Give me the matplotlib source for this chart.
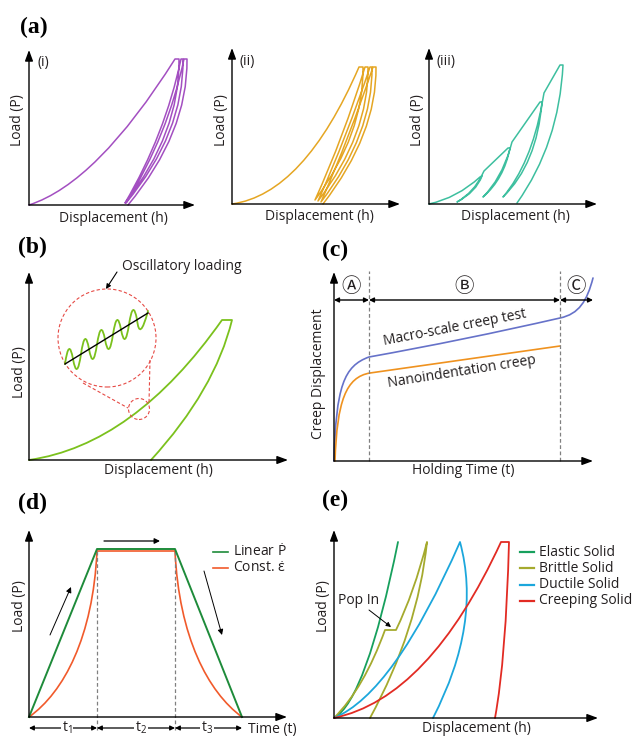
import numpy as np
import matplotlib.pyplot as plt
from matplotlib.path import Path
from matplotlib.patches import PathPatch, Circle

plt.rcParams['font.family'] = ['Open Sans', 'DejaVu Sans']
plt.rcParams['mathtext.fontset'] = 'custom'
plt.rcParams['mathtext.rm'] = 'Open Sans'
plt.rcParams['mathtext.it'] = 'Open Sans:italic'
plt.rcParams['font.size'] = 10
plt.rcParams['text.color'] = '#231f20'

W_PX, H_PX = 632, 737

#-----------------------
#   Curve data (arbitrary units read off the schematic)
#   point -> straight line, (ctrl, end) -> quadratic, (c1, c2, end) -> cubic
#-----------------------

# (a) cyclic indentation, load-hold-unload-reload
a1_curve = [(0, 0), ((68, 22), (146, 146)), (150, 146), ((151, 72), (96, 2)),
            ((136, 70), (152, 146)), (154, 146), ((155, 72), (97, 2)),
            ((139, 70), (155, 146)), (158, 146), ((159, 72), (99, 0))]
a2_curve = [(0, 0), ((72, 10), (127, 137)), (131, 137), ((132, 70), (83, 4)),
            ((112, 68), (133, 137)), (136, 137), ((137, 70), (86, 3)),
            ((115, 68), (138, 137)), (140, 137), ((141, 70), (89, 2)),
            ((118, 68), (141, 137)), (144, 137), ((145, 70), (91, 0))]
a3_curve = [(0, 0), ((28, 6), (51, 27)), (53, 28), ((47, 12), (28, 2)),
            ((45, 12), (53, 29)), (55, 33), (79, 56), (81, 56), ((75, 25), (54, 7)),
            ((72, 25), (81, 55)), (83, 62), (111, 102), (113, 102), ((108, 40), (74, 7)),
            ((102, 40), (113, 100)), (115, 111), (131, 139), (134, 139), ((130, 60), (88, 1))]

# (b) continuous stiffness measurement
b_curve = [(0, 0), ((105, 15), (193, 140)), (203, 140), ((186, 70), (122, 0))]
b_zoom_big = (78, 122, 49)     # centre x, centre y, radius
b_zoom_small = (110, 51, 10.5)
b_tangents = [((54, 77), (99, 52)), ((121, 100), (120, 57))]
b_ramp = [(36, 96), (119, 147)]
b_wave = [(36, 96), (40, 111), (48, 91), (56, 121), (64, 101), (72, 130), (80, 111),
          (88, 140), (96, 121), (104, 150), (112, 131), (119, 149)]

# (c) creep curves
c_stage_edges = [0, 35, 226, 259]
c_stage_names = ['Ⓐ', 'Ⓑ', 'Ⓒ']
c_macro = [(0, 0), ((2, 75), (10, 95), (35, 104)), ((130, 121), (226, 143)),
           ((245, 147), (253, 160), (259, 183))]
c_nano = [(1, 0), ((3, 60), (12, 84), (36, 88)), (226, 115)]

# (d) load functions
d_times = [0, 68, 146, 213]
d_linear = [0, 168, 168, 0]
d_strain = [(0, 0), ((35, 25), (64, 80), (68, 166)), (146, 166),
            ((150, 80), (179, 25), (213, 0))]
d_t_labels = ['t$_1$', 't$_2$', 't$_3$']
d_t_pos = [38, 112, 178]

# (e) material responses
e_names = ['Elastic Solid', 'Brittle Solid', 'Ductile Solid', 'Creeping Solid']
e_colors = ['#17a05d', '#a5aa2e', '#1ca7dc', '#e22b23']
e_curves = [
    [(0, 0), ((32, 18), (64, 176))],
    [(0, 0), ((30, 30), (51, 88)), (62, 88), ((80, 125), (93, 176)), ((84, 88), (36, 0))],
    [(0, 0), ((60, 25), (126, 176)), ((148, 95), (99, 0))],
    [(0, 0), ((95, 20), (167, 176)), (175, 176), ((172, 60), (161, 0))],
]

fig = plt.figure(figsize=(W_PX / 100, H_PX / 100), dpi=100)


def panel(x0, y0, w, h):
    # axes where one data unit is one pixel, origin at (x0, y0) pixels
    ax = fig.add_axes([x0 / W_PX, 1 - y0 / H_PX, w / W_PX, h / H_PX])
    ax.set_xlim(0, w)
    ax.set_ylim(0, h)
    ax.axis('off')
    head = '-|>,head_length=0.65,head_width=0.24'
    for tip in [(w, 0), (0, h)]:
        ax.annotate('', xy=tip, xytext=(0, 0), annotation_clip=False,
                    arrowprops=dict(arrowstyle=head, color='black', lw=1.0,
                                    shrinkA=0, shrinkB=0, mutation_scale=10))
    return ax


def curve(ax, segs, color, lw=1.1, **kw):
    verts, codes = [segs[0]], [Path.MOVETO]
    for s in segs[1:]:
        if np.ndim(s) == 1:
            verts.append(s)
            codes.append(Path.LINETO)
        elif len(s) == 2:
            verts += list(s)
            codes += [Path.CURVE3] * 2
        else:
            verts += list(s)
            codes += [Path.CURVE4] * 3
    ax.add_patch(PathPatch(Path(verts, codes), fill=False, ec=color, lw=lw,
                           clip_on=False, capstyle='round', joinstyle='round', **kw))


def arrow(ax, start, end, style='-|>', lw=0.9, ms=8):
    ax.annotate('', xy=end, xytext=start, annotation_clip=False,
                arrowprops=dict(arrowstyle=style, color='black', lw=lw,
                                shrinkA=0, shrinkB=0, mutation_scale=ms))


def labels(ax, xl, yl, ylab='Load (P)', xlab='Displacement (h)'):
    ax.text(xl[0], xl[1], xlab, ha='center', va='center')
    ax.text(yl[0], yl[1], ylab, ha='center', va='center', rotation=90)


def tag(x, y, s):
    fig.text(x / W_PX, 1 - y / H_PX, s, family='Liberation Serif', weight='bold',
             fontsize=17, ha='left', va='center', color='black')


#   (a)
tag(20, 27, '(a)')
for (x0, y0, w, h), segs, col, name, xl, yl in [
        ((29, 205, 166, 155), a1_curve, '#a34fc1', '(i)', (84, -13), (-11, 85)),
        ((232, 204, 168, 156), a2_curve, '#e5a623', '(ii)', (87, -13), (-10, 84)),
        ((429, 204, 168, 156), a3_curve, '#3dbf9f', '(iii)', (86, -13), (-11, 84))]:
    ax = panel(x0, y0, w, h)
    curve(ax, segs, col)
    ax.text(8, 142, name, fontsize=10, ha='left', va='center')
    labels(ax, xl, yl)

#   (b)
tag(18, 247, '(b)')
ax = panel(29, 460, 259, 188)
curve(ax, b_curve, '#7bc11d', lw=1.3)
red = '#e64a45'
for cx, cy, r in [b_zoom_big, b_zoom_small]:
    ax.add_patch(Circle((cx, cy), r, fill=False, ec=red, lw=0.8, ls=(0, (3, 2)),
                        clip_on=False))
for p, q in b_tangents:
    ax.plot([p[0], q[0]], [p[1], q[1]], color=red, lw=0.8, ls=(0, (3, 2)), clip_on=False)
ax.plot([b_ramp[0][0], b_ramp[1][0]], [b_ramp[0][1], b_ramp[1][1]], color='black', lw=1.0)
# smooth wave through the crests and troughs
ext = np.array(b_wave, dtype=float)
nodes = [ext[0]] + [(ext[i] + ext[i + 1]) / 2 for i in range(1, len(ext) - 2)] + [ext[-1]]
wave = [tuple(nodes[0])]
for i in range(1, len(ext) - 1):
    ctrl = 2 * ext[i] - (nodes[i - 1] + nodes[i]) / 2
    wave.append((tuple(ctrl), tuple(nodes[i])))
curve(ax, wave, '#7bc11d', lw=1.3)
ax.text(93, 194, 'Oscillatory loading', ha='left', va='center')
arrow(ax, (88, 188), (77, 171), lw=0.8, ms=7)
labels(ax, (129, -10), (-10, 88))

#   (c)
tag(322, 250, '(c)')
ax = panel(334, 461, 259, 189)
for x in c_stage_edges[1:3]:
    ax.plot([x, x], [0, 190], color='#808080', lw=0.9, ls=(0, (3, 2)), clip_on=False)
for i, name in enumerate(c_stage_names):
    a, b = c_stage_edges[i], c_stage_edges[i + 1]
    arrow(ax, (a, 161), (b, 161), style='<|-|>', lw=1.0, ms=7)
    ax.text((a + b) / 2, 175, name, ha='center', va='center', fontsize=14,
            family=['Noto Sans CJK SC', 'DejaVu Sans'])
curve(ax, c_macro, '#6672c9', lw=1.2)
curve(ax, c_nano, '#ef921f', lw=1.2)
ax.text(121, 133, 'Macro-scale creep test', ha='center', va='center', rotation=11,
        rotation_mode='anchor')
ax.text(128, 89, 'Nanoindentation creep', ha='center', va='center', rotation=9,
        rotation_mode='anchor')
labels(ax, (129, -9), (-16, 87), ylab='Creep Displacement', xlab='Holding Time (t)')

#   (d)
tag(18, 503, '(d)')
ax = panel(29, 717, 258, 187)
for x in d_times[1:3]:
    ax.plot([x, x], [-13, 168], color='#808080', lw=0.9, ls=(0, (3, 2)), clip_on=False)
ax.plot(d_times, d_linear, color='#1e8b3a', lw=1.4, clip_on=False)
curve(ax, d_strain, '#f15a2b', lw=1.2)
for i, lab in enumerate(d_t_labels):
    arrow(ax, (d_times[i], -11), (d_times[i + 1], -11), style='<|-|>', lw=0.9, ms=7)
    ax.text(d_t_pos[i], -11, lab, ha='center', va='center',
            bbox=dict(fc='white', ec='none', pad=0.5))
ax.text(219, -13, 'Time (t)', ha='left', va='center')
arrow(ax, (75, 176), (131, 176))
arrow(ax, (21, 82), (42, 130), lw=0.7)
arrow(ax, (175, 146), (193, 82), lw=0.7)
for y, col, lab in [(165, '#1e8b3a', r'Linear $\dot{\mathrm{P}}$'),
                    (149, '#f15a2b', r'Const. $\dot{\mathrm{\varepsilon}}$')]:
    ax.plot([184, 199], [y, y], color=col, lw=1.2, clip_on=False)
    ax.text(204, y, lab, ha='left', va='center')
labels(ax, (129, -30), (-10, 111), xlab='')

#   (e)
tag(322, 500, '(e)')
ax = panel(334, 718, 264, 188)
for segs, col, name, y in zip(e_curves, e_colors, e_names, [166, 150, 133, 117]):
    curve(ax, segs, col, lw=1.3)
    ax.plot([186, 200], [y, y], color=col, lw=1.6, clip_on=False)
    ax.text(205, y, name, ha='left', va='center')
ax.text(4, 118, 'Pop In', ha='left', va='center')
arrow(ax, (35, 108), (57, 91), lw=0.7, ms=7)
labels(ax, (142, -11), (-11, 112))

fig.savefig('out.png', dpi=100, facecolor='white')
